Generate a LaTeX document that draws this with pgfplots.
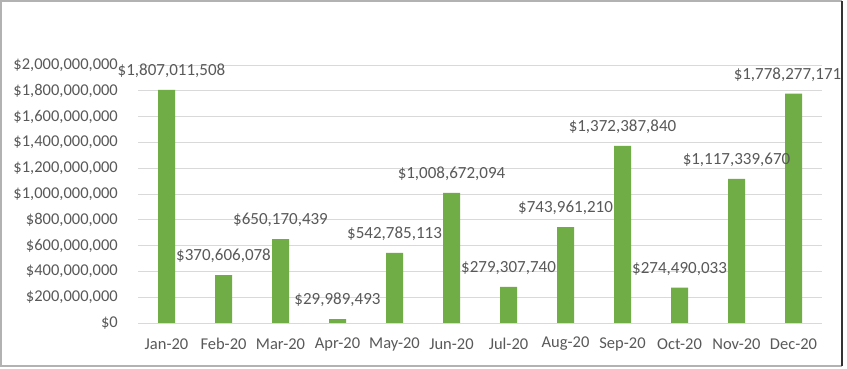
\documentclass[border=0pt]{standalone}
\usepackage{pgfplots}
\usepackage{pgfplotstable}
\pgfplotsset{compat=1.18}
\usepackage{fontspec}
\setmainfont{Carlito}
\definecolor{barg}{HTML}{70AD47}
\definecolor{txt}{HTML}{595959}
\definecolor{gridc}{HTML}{D9D9D9}
\pgfplotstableread[col sep=semicolon]{
x;y;dx;lab
0;1807011508;5;\$1,807,011,508
1;370606078;0;\$370,606,078
2;650170439;0;\$650,170,439
3;29989493;0;\$29,989,493
4;542785113;0;\$542,785,113
5;1008672094;0;\$1,008,672,094
6;279307740;0;\$279,307,740
7;743961210;0;\$743,961,210
8;1372387840;0;\$1,372,387,840
9;274490033;0;\$274,490,033
10;1117339670;0;\$1,117,339,670
11;1778277171;-6;\$1,778,277,171
}\data
\begin{document}
\begin{tikzpicture}
\useasboundingbox (0,0) rectangle (847bp,369bp);
\fill[white] (0,0) rectangle (847bp,369bp);
\draw[line width=1.5bp, color=gray!60] (842bp,3bp) -- (1bp,3bp) -- (1bp,368bp) -- (842bp,368bp);
\draw[line width=1.2bp, color=black!80] (842bp,3bp) -- (842bp,368bp);
\begin{axis}[
  at={(138bp,46bp)}, anchor=south west,
  scale only axis, width=684bp, height=258bp,
  xmin=-0.5, xmax=11.5, ymin=0, ymax=2e9,
  scaled y ticks=false,
  axis line style={draw=none},
  major tick length=0pt,
  ymajorgrids, grid style={gridc, line width=0.8bp},
  xtick={0,...,11},
  xticklabels={Jan-20,Feb-20,Mar-20,Apr-20,May-20,Jun-20,Jul-20,Aug-20,Sep-20,Oct-20,Nov-20,Dec-20},
  ytick={0,2e8,4e8,6e8,8e8,1e9,1.2e9,1.4e9,1.6e9,1.8e9,2e9},
  yticklabels={{\$0},{\$200,000,000},{\$400,000,000},{\$600,000,000},{\$800,000,000},{\$1,000,000,000},{\$1,200,000,000},{\$1,400,000,000},{\$1,600,000,000},{\$1,800,000,000},{\$2,000,000,000}},
  ticklabel style={font=\fontsize{16.5bp}{20bp}\selectfont, text=txt},
  yticklabel style={anchor=east, inner sep=0pt, xshift=-20bp},
  xticklabel style={anchor=center, inner sep=0pt, yshift=-21bp},
  clip=false,
]
\addplot[ybar, bar width=17bp, fill=barg, draw=none,
  nodes near coords, point meta=explicit symbolic,
  visualization depends on={\thisrow{dx} \as \dx},
  every node near coord/.append style={font=\fontsize{17bp}{20bp}\selectfont, text=txt, anchor=south, inner sep=0pt, yshift=12bp, xshift=\dx bp}]
  table[x=x, y=y, meta=lab]{\data};
\end{axis}
\end{tikzpicture}
\end{document}
